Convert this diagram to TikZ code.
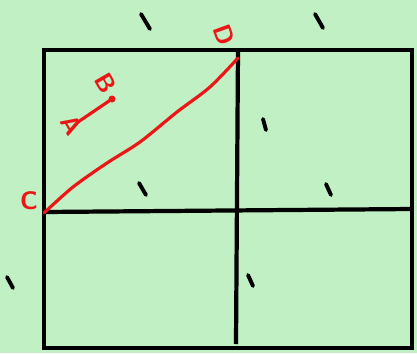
\documentclass[tikz,border=0pt]{standalone}
\usepackage{tikz}
\usetikzlibrary{arrows.meta,positioning,calc}
\definecolor{sketchbg}{RGB}{192,240,196}
\definecolor{penred}{RGB}{236,22,22}

\begin{document}
\begin{tikzpicture}[x=0.02cm, y=-0.02cm,
    gridline/.style={line width=2.4pt, black},
    tick/.style={line width=2.2pt, black, line cap=round},
    redpen/.style={penred, line width=1.8pt, line cap=round, line join=round},
    letter/.style={text=penred, font=\Large\bfseries\sffamily, inner sep=0pt}]
    % Fondo
    \fill[sketchbg] (0,0) rectangle (417,353);
    \useasboundingbox (0,0) rectangle (417,353);

    % Cuadricula
    \coordinate (tl) at (44,50);
    \coordinate (tr) at (412,50);
    \coordinate (bl) at (44,348);
    \coordinate (br) at (412,348);
    \coordinate (tm) at (238,50);
    \coordinate (bm) at (236,344);
    \coordinate (ml) at (44,212);
    \coordinate (mr) at (412,209);
    \draw[gridline] (tl) rectangle (br);
    \draw[gridline] (tm) -- (bm);
    \draw[gridline] (ml) -- (mr);

    % Marcas
    \draw[tick] (141,14) -- (150,29);
    \draw[tick] (315,14) -- (323,28);
    \draw[tick] (263,119) -- (266,130);
    \draw[tick] (139,183) -- (146,195);
    \draw[tick] (326,184) -- (331,195);
    \draw[tick] (7,277) -- (13,288);
    \draw[tick] (248,275) -- (253,286);

    % Diagonal C - D
    \node[letter] (c) at (29,201) {C};
    \node[letter, rotate=-70] (d) at (224,35) {D};
    \draw[redpen] plot[smooth, tension=0.5] coordinates
        {(44,213) (73,187) (107,163) (140,142) (177,112) (210,87) (238,58)};

    % Segmento A - B
    \coordinate (pa) at (78,122);
    \coordinate (pb) at (112,99);
    \draw[redpen] (pa) -- (pb);
    \fill[penred] (pb) circle (3.5);
    \node[letter, rotate=-60] (a) at (72,125) {A};
    \node[letter, rotate=-60] (b) at (106,83) {B};
\end{tikzpicture}
\end{document}
